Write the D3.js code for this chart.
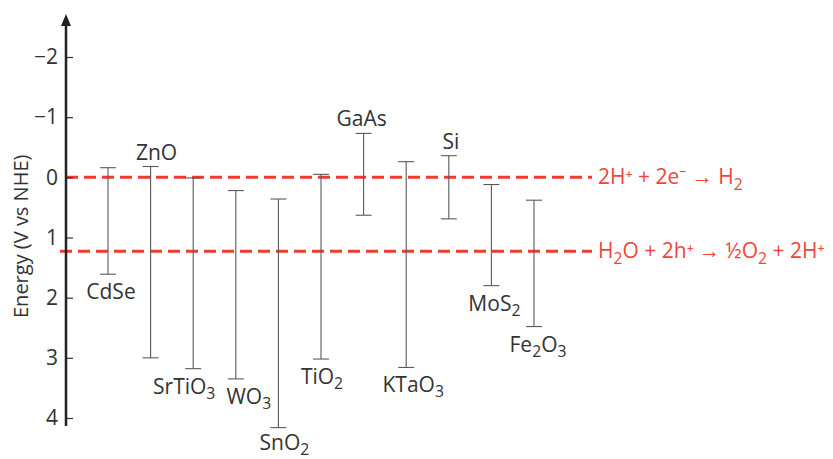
<!DOCTYPE html>
<html>
<head>
<meta charset="utf-8">
<script src="https://cdn.jsdelivr.net/npm/d3@7"></script>
<style>
  body { margin: 0; background: #fff; }
  text { font-family: "Open Sans", "Noto Sans", sans-serif; }
</style>
</head>
<body>
<div id="chart"></div>
<script>
// band edges (V vs NHE)
const materials = ["CdSe", "ZnO", "SrTiO3", "WO3", "SnO2", "TiO2", "GaAs", "KTaO3", "Si", "MoS2", "Fe2O3"];
const conductionBand = [-0.16, -0.18, 0.01, 0.22, 0.36, -0.05, -0.73, -0.26, -0.36, 0.12, 0.38];
const valenceBand = [1.61, 3.0, 3.18, 3.35, 4.16, 3.02, 0.63, 3.16, 0.69, 1.8, 2.48];
const labelSide = ["below", "above", "below", "below", "below", "below", "above", "below", "above", "below", "below"];
const yTicks = [-2, -1, 0, 1, 2, 3, 4];
const redoxLevels = [0, 1.23];
const redoxLabels = [
  [["2H⁺ + 2e⁻ → H", ""], ["2", "sub"]],
  [["H", ""], ["2", "sub"], ["O + 2h⁺ → ½O", ""], ["2", "sub"], [" + 2H⁺", ""]]
];

const width = 833;
const height = 459;
const axisX = 66;
// small horizontal nudges so the labels sit like the original
const labelNudge = [3, 6, -9, 13, 6, 1, -2, 7, 2, 3, 4];

const svg = d3.select("#chart")
    .append("svg")
    .attr("width", width)
    .attr("height", height);

const yScale = d3.scaleLinear()
    .domain([-2, 4])
    .range([57, 418]);

const xScale = d3.scalePoint()
    .domain(materials)
    .range([108, 534]);

// red dashed redox levels
svg.selectAll(".redox")
    .data(redoxLevels)
    .enter()
    .append("line")
    .attr("class", "redox")
    .attr("x1", (d, i) => i === 0 ? axisX : 60)
    .attr("x2", 592)
    .attr("y1", d => yScale(d))
    .attr("y2", d => yScale(d))
    .attr("stroke", "#ef3b2f")
    .attr("stroke-width", 3)
    .attr("stroke-dasharray", "12,6");

// helper: write a label with subscripts
function writeParts(sel, parts, subShift) {
  parts.forEach(p => {
    const t = sel.append("tspan").text(p[0]);
    if (p[1] === "sub") {
      t.attr("font-size", "0.75em").attr("baseline-shift", subShift);
    }
  });
}

svg.selectAll(".redoxLabel")
    .data(redoxLevels)
    .enter()
    .append("text")
    .attr("class", "redoxLabel")
    .attr("x", 598)
    .attr("y", d => yScale(d) + 7)
    .attr("font-size", 21)
    .attr("fill", "#f0453a")
    .each(function(d, i) { writeParts(d3.select(this), redoxLabels[i], "-6"); });

// band gap bars
const bars = svg.selectAll(".band")
    .data(materials)
    .enter()
    .append("g")
    .attr("class", "band")
    .attr("stroke", "#5a5a5a")
    .attr("stroke-width", 1.1);

bars.append("line")
    .attr("x1", d => xScale(d))
    .attr("x2", d => xScale(d))
    .attr("y1", (d, i) => yScale(conductionBand[i]))
    .attr("y2", (d, i) => yScale(valenceBand[i]));

bars.append("line")
    .attr("x1", d => xScale(d) - 8)
    .attr("x2", d => xScale(d) + 8)
    .attr("y1", (d, i) => yScale(conductionBand[i]))
    .attr("y2", (d, i) => yScale(conductionBand[i]));

bars.append("line")
    .attr("x1", d => xScale(d) - 8)
    .attr("x2", d => xScale(d) + 8)
    .attr("y1", (d, i) => yScale(valenceBand[i]))
    .attr("y2", (d, i) => yScale(valenceBand[i]));

// material names, digits as subscripts
svg.selectAll(".matLabel")
    .data(materials)
    .enter()
    .append("text")
    .attr("class", "matLabel")
    .attr("text-anchor", "middle")
    .attr("font-size", 21)
    .attr("fill", "#333")
    .attr("x", (d, i) => xScale(d) + labelNudge[i])
    .attr("y", (d, i) => labelSide[i] === "above"
        ? yScale(conductionBand[i]) - 7
        : Math.min(yScale(valenceBand[i]) + 25, 450))
    .each(function(d) {
      const parts = d.match(/[A-Za-z]+|\d+/g).map(s => /\d/.test(s) ? [s, "sub"] : [s, ""]);
      writeParts(d3.select(this), parts, "-5");
    });

// y axis, ticks pointing inward
const yAxis = svg.append("g")
    .attr("transform", `translate(${axisX},0)`)
    .call(d3.axisLeft(yScale).tickValues(yTicks).tickFormat(d3.format("d"))
        .tickSize(-7).tickPadding(8));

yAxis.select(".domain").remove();
yAxis.selectAll(".tick line").attr("stroke", "#333").attr("stroke-width", 1.2);
yAxis.selectAll(".tick text")
    .attr("font-size", 21)
    .attr("fill", "#333")
    .attr("font-family", "'Open Sans', sans-serif");

svg.append("line")
    .attr("x1", axisX)
    .attr("x2", axisX)
    .attr("y1", 426)
    .attr("y2", 22)
    .attr("stroke", "#222")
    .attr("stroke-width", 2.5);

svg.append("path")
    .attr("d", `M${axisX},14 L${axisX - 5},26 L${axisX + 5},26 Z`)
    .attr("fill", "#222");

svg.append("text")
    .attr("transform", `translate(28,${yScale(0.98)}) rotate(-90)`)
    .attr("text-anchor", "middle")
    .attr("font-size", 20)
    .attr("fill", "#333")
    .text("Energy (V vs NHE)");
</script>
</body>
</html>
